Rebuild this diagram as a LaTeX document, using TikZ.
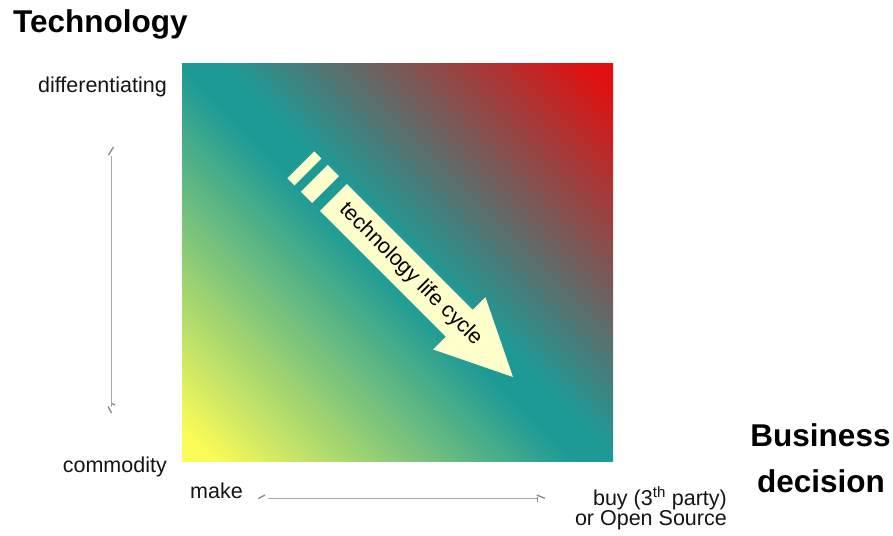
\documentclass[tikz,border=0pt]{standalone}
\usepackage{fontspec}
\setmainfont{Liberation Sans}
\definecolor{yelc}{HTML}{FCFC58}
\definecolor{tealc}{HTML}{1E9A96}
\definecolor{redc}{HTML}{E01010}
\definecolor{creamc}{HTML}{FFFFCC}
\definecolor{axisc}{HTML}{A8A8A8}
\definecolor{tickc}{HTML}{888888}
\pgfdeclarehorizontalshading{lifecycle}{100bp}{color(0bp)=(yelc); color(17bp)=(yelc); color(48bp)=(tealc); color(52bp)=(tealc); color(83bp)=(redc); color(100bp)=(redc)}
\tikzset{
  lbl/.style={inner sep=0pt, font=\fontsize{21.5}{24}\selectfont, text=black!92},
  title/.style={inner sep=0pt, font=\bfseries\fontsize{31.5}{36}\selectfont, text=black},
  axisline/.style={draw=axisc, line width=1.5pt},
  axistick/.style={draw=tickc, line width=1.3pt},
  arrowpart/.style={fill=creamc, draw=none}
}
\begin{document}
\begin{tikzpicture}[x=1pt,y=-1pt]
\useasboundingbox (0,0) rectangle (893,535);
% gradient square
\node (sq) [shading=lifecycle, shading angle=45, minimum width=431pt, minimum height=398pt, inner sep=0pt, anchor=north west] at (182,63) {};
% life cycle arrow
\begin{scope}[shift={(513,377)}, rotate=-45]
  \path[arrowpart] (0,0) -- (-76,37) -- (-76,19) -- (-254,19) -- (-254,-19) -- (-76,-19) -- (-76,-37) -- cycle;
  \path[arrowpart] (-281,19) rectangle (-265,-19);
  \path[arrowpart] (-300,19) rectangle (-290,-19);
  \node (lc) [inner sep=0pt, font=\fontsize{21.5}{24}\selectfont, text=black, rotate=-45] at (-145,0) {technology life cycle};
\end{scope}
% titles
\node (tech) [title, anchor=base west] at (13,33) {Technology};
\node (bus) [title, anchor=base] at (820.5,446) {Business};
\node (dec) [title, anchor=base] at (821,492) {decision};
% labels
\node (diff) [lbl, anchor=base east] at (167,92) {differentiating};
\node (comm) [lbl, anchor=base east] at (167,472) {commodity};
\node (make) [lbl, anchor=base west] at (190,498) {make};
\node (buy) [lbl, anchor=base east] at (727,505) {buy (3\textsuperscript{th} party)};
\node (open) [lbl, anchor=base east] at (727,525) {or Open Source};
% vertical axis
\coordinate (vt) at (111.5,156);
\coordinate (vb) at (111.5,407);
\draw[axisline] (vt) -- (vb);
\draw[axistick] (108.5,155) -- (113.5,147);
\draw[axistick] (108,406.5) -- (111.5,413);
\draw[axistick] (111.5,403.5) -- (115,405);
% horizontal axis
\coordinate (hl) at (268,498.3);
\coordinate (hr) at (538,498.3);
\draw[axisline] (hl) -- (hr);
\draw[axistick] (258.3,498.5) -- (265,495);
\draw[axistick] (536.7,495) -- (545,498.3);
\draw[axistick] (537.7,497) -- (537.7,502);
\end{tikzpicture}
\end{document}
